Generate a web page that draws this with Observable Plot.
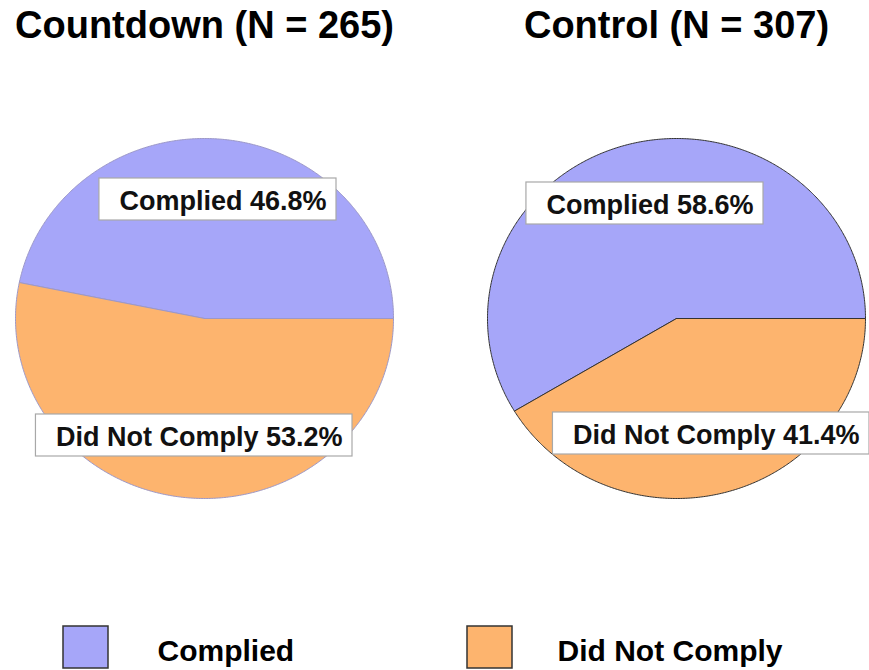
<!DOCTYPE html>
<html>
<head>
<meta charset="utf-8">
<script src="https://cdn.jsdelivr.net/npm/d3@7"></script>
<script src="https://cdn.jsdelivr.net/npm/@observablehq/plot@0.6"></script>
<style>
  html, body { margin: 0; padding: 0; background: #fff; }
  #chart svg { display: block; }
</style>
</head>
<body>
<div id="chart"></div>
<script>
// ---- data ----
const groups = ["Countdown", "Control"];
const groupN = [265, 307];
const categories = ["Complied", "Did Not Comply"];
const compliedPct = [46.8, 58.6];
const didNotComplyPct = [53.2, 41.4];

// ---- layout / style (not data) ----
const W = 869, H = 670;
const colors = ["#a6a6f9", "#fdb46e"];
const centers = [[204, 318], [676, 318]];
const RX = 189, RY = 180;
const pieStroke = ["#9c98c8", "#333333"];
// label anchor: [dx of text end, dy of baseline] relative to pie centre
const labelOffsets = [
  [[122, -109], [138, 127]],
  [[77, -105], [183, 125]]
];
const FONT = "'Liberation Sans', Arial, Helvetica, sans-serif";
const labelSize = 27;

const ctx = document.createElement("canvas").getContext("2d");
ctx.font = `bold ${labelSize}px 'Liberation Sans', Arial, sans-serif`;

// ---- build wedges from values ----
const wedges = [];
const labels = [];
groups.forEach((g, gi) => {
  const vals = [compliedPct[gi], didNotComplyPct[gi]];
  const [cx, cy] = centers[gi];
  let start = 0;
  vals.forEach((v, ci) => {
    const a0 = start / 100 * 2 * Math.PI;
    const a1 = (start + v) / 100 * 2 * Math.PI;
    const n = Math.max(2, Math.ceil((a1 - a0) / (Math.PI / 360)));
    const pts = [{x: cx, y: cy}];
    for (let i = 0; i <= n; i++) {
      const a = a0 + (a1 - a0) * i / n;
      pts.push({x: cx + RX * Math.cos(a), y: cy - RY * Math.sin(a)});
    }
    pts.push({x: cx, y: cy});
    wedges.push({g: gi, c: ci, pts});
    const text = `${categories[ci]} ${v.toFixed(1)}%`;
    const tw = ctx.measureText(text).width;
    const [dx, dy] = labelOffsets[gi][ci];
    const xe = cx + dx, yb = cy + dy;
    labels.push({text, x: xe, y: yb, x1: xe - tw - 20, x2: xe + 10, y1: yb - 31, y2: yb + 11});
    start += v;
  });
});

const titles = groups.map((g, i) => ({text: `${g} (N = ${groupN[i]})`, x: centers[i][0], y: 37}));
const legendItems = categories.map((c, i) => ({
  text: c, color: colors[i],
  x1: [63, 467][i], x2: [108, 512][i], y1: 626, y2: 668,
  tx: [157, 557][i], ty: 660
}));

const marks = [];
wedges.forEach(w => {
  marks.push(Plot.line(w.pts, {
    x: "x", y: "y", fill: colors[w.c], stroke: pieStroke[w.g],
    strokeWidth: 1, curve: "linear"
  }));
});
marks.push(Plot.rect(labels, {x1: "x1", x2: "x2", y1: "y1", y2: "y2", fill: "white", stroke: "#a8a8a8", strokeWidth: 1.2}));
marks.push(Plot.text(labels, {x: "x", y: "y", text: "text", textAnchor: "end", lineAnchor: "bottom",
  fontSize: labelSize, fontWeight: "bold", fill: "#111"}));
marks.push(Plot.text(titles, {x: "x", y: "y", text: "text", textAnchor: "middle", lineAnchor: "bottom",
  fontSize: 38, fontWeight: "bold", fill: "#000"}));
marks.push(Plot.rect(legendItems, {x1: "x1", x2: "x2", y1: "y1", y2: "y2", fill: d => d.color, stroke: "#333", strokeWidth: 1.5}));
marks.push(Plot.text(legendItems, {x: "tx", y: "ty", text: "text", textAnchor: "start", lineAnchor: "bottom",
  fontSize: 30, fontWeight: "bold", fill: "#000"}));

const chart = Plot.plot({
  width: W, height: H,
  margin: 0,
  style: {fontFamily: FONT, background: "white", overflow: "visible"},
  x: {domain: [0, W], range: [0, W], axis: null},
  y: {domain: [0, H], range: [0, H], axis: null},
  marks
});
document.getElementById("chart").appendChild(chart);
</script>
</body>
</html>
